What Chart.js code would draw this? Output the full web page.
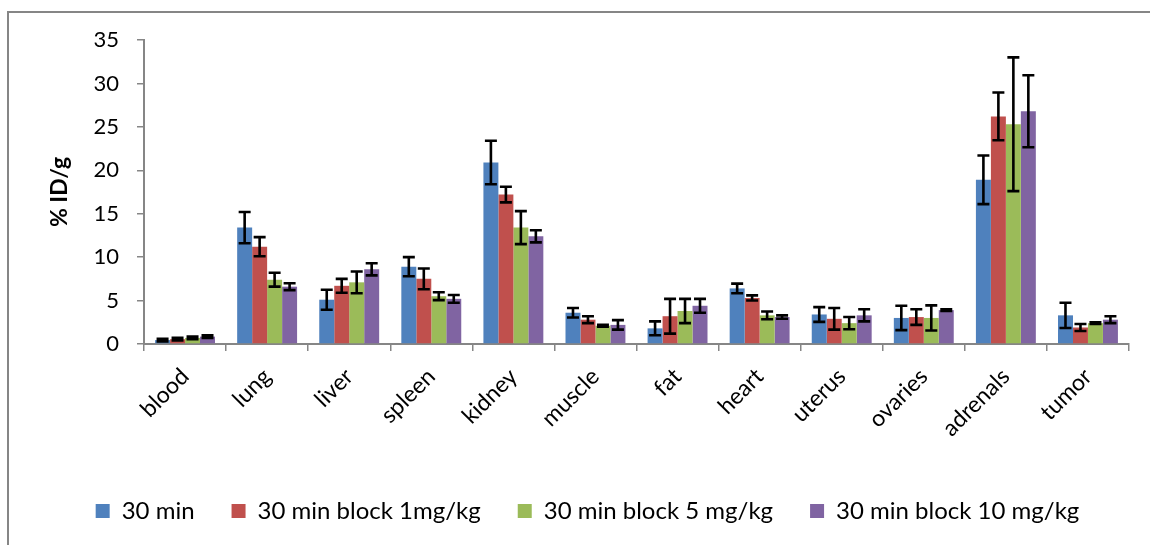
<!DOCTYPE html>
<html>
<head>
<meta charset="utf-8">
<script src="https://cdn.jsdelivr.net/npm/chart.js@4.4.0/dist/chart.umd.min.js"></script>
<style>
  html, body { margin: 0; padding: 0; background: #ffffff; overflow: hidden; }
  canvas { display: block; }
</style>
</head>
<body>
<canvas id="chart" width="1150" height="545"></canvas>
<script>
// Organs sampled
const organs = ['blood', 'lung', 'liver', 'spleen', 'kidney', 'muscle', 'fat', 'heart', 'uterus', 'ovaries', 'adrenals', 'tumor'];

// Series labels
const seriesLabels = ['30 min', '30 min block 1mg/kg', '30 min block 5 mg/kg', '30 min block 10 mg/kg'];

// Mean uptake (% ID/g) per organ
const uptake30 = [0.45, 13.4, 5.1, 8.9, 20.9, 3.6, 1.8, 6.4, 3.4, 3.0, 18.9, 3.3];
const uptakeBlock1 = [0.55, 11.2, 6.7, 7.5, 17.2, 2.8, 3.2, 5.3, 2.9, 3.1, 26.2, 1.9];
const uptakeBlock5 = [0.7, 7.4, 7.1, 5.5, 13.4, 2.1, 3.8, 3.3, 2.4, 3.0, 25.3, 2.4];
const uptakeBlock10 = [0.85, 6.6, 8.6, 5.2, 12.4, 2.2, 4.4, 3.1, 3.3, 3.9, 26.8, 2.8];

// Standard deviations
const sd30 = [0.15, 1.8, 1.15, 1.1, 2.5, 0.55, 0.8, 0.55, 0.85, 1.4, 2.8, 1.45];
const sdBlock1 = [0.15, 1.1, 0.8, 1.2, 0.9, 0.4, 2.0, 0.3, 1.25, 0.9, 2.75, 0.4];
const sdBlock5 = [0.15, 0.8, 1.25, 0.45, 1.9, 0.1, 1.4, 0.45, 0.7, 1.45, 7.7, 0.1];
const sdBlock10 = [0.15, 0.4, 0.7, 0.45, 0.7, 0.55, 0.8, 0.2, 0.7, 0.1, 4.15, 0.4];

// Axis range
const yMin = 0, yMax = 35, yStep = 5;

const colors = ['#4F81BD', '#C0504D', '#9BBB59', '#8064A2'];
const axisGrey = '#868686';
const fontFamily = 'Lato, "Open Sans", sans-serif';

const values = [uptake30, uptakeBlock1, uptakeBlock5, uptakeBlock10];
const errors = [sd30, sdBlock1, sdBlock5, sdBlock10];

// Outer frame of the chart area
const framePlugin = {
  id: 'frame',
  beforeDraw(chart) {
    const ctx = chart.ctx;
    ctx.save();
    ctx.strokeStyle = axisGrey;
    ctx.lineWidth = 2;
    ctx.beginPath();
    ctx.moveTo(8, chart.height + 5);
    ctx.lineTo(8, 12);
    ctx.lineTo(chart.width + 5, 12);
    ctx.stroke();
    ctx.restore();
  }
};

// Symmetric error bars drawn on top of each bar
const errorBarPlugin = {
  id: 'errorBars',
  afterDatasetsDraw(chart) {
    const ctx = chart.ctx;
    const y = chart.scales.y;
    ctx.save();
    ctx.strokeStyle = '#000000';
    ctx.lineWidth = 2.6;
    chart.data.datasets.forEach((ds, di) => {
      const meta = chart.getDatasetMeta(di);
      meta.data.forEach((bar, i) => {
        const v = ds.data[i];
        const e = ds.errors[i];
        const top = y.getPixelForValue(v + e);
        const bot = y.getPixelForValue(Math.max(v - e, yMin));
        const cx = bar.x;
        const half = 6;
        ctx.beginPath();
        ctx.moveTo(cx, top);
        ctx.lineTo(cx, bot);
        ctx.moveTo(cx - half, top);
        ctx.lineTo(cx + half, top);
        ctx.moveTo(cx - half, bot);
        ctx.lineTo(cx + half, bot);
        ctx.stroke();
      });
    });
    ctx.restore();
  }
};

new Chart(document.getElementById('chart'), {
  type: 'bar',
  data: {
    labels: organs,
    datasets: seriesLabels.map((label, i) => ({
      label,
      data: values[i],
      errors: errors[i],
      backgroundColor: colors[i],
      borderWidth: 0,
      categoryPercentage: 0.73,
      barPercentage: 1.0
    }))
  },
  options: {
    responsive: false,
    animation: false,
    layout: { padding: { left: 46, right: 21, top: 40, bottom: 12 } },
    plugins: {
      tooltip: { enabled: false },
      legend: {
        position: 'bottom',
        labels: {
          boxWidth: 14,
          boxHeight: 14,
          padding: 37,
          color: '#000000',
          font: { family: fontFamily, size: 24 }
        }
      }
    },
    scales: {
      x: {
        grid: {
          offset: true,
          drawOnChartArea: false,
          tickLength: 7,
          color: axisGrey,
          lineWidth: 1.5
        },
        border: { color: axisGrey, width: 2 },
        ticks: {
          autoSkip: false,
          minRotation: 45,
          maxRotation: 45,
          padding: 12,
          color: '#000000',
          font: { family: fontFamily, size: 23 }
        },
        afterFit(scale) { scale.height = 118; }
      },
      y: {
        min: yMin,
        max: yMax,
        ticks: {
          stepSize: yStep,
          padding: 18,
          color: '#000000',
          font: { family: fontFamily, size: 22 }
        },
        grid: {
          drawOnChartArea: false,
          tickLength: 7,
          color: axisGrey,
          lineWidth: 1.5
        },
        border: { color: axisGrey, width: 2 },
        title: {
          display: true,
          text: '% ID/g',
          color: '#000000',
          padding: { top: 0, bottom: 0 },
          font: { family: fontFamily, size: 23, weight: 'bold' }
        },
        afterFit(scale) { scale.width = 144 - 46; }
      }
    }
  },
  plugins: [framePlugin, errorBarPlugin]
});
</script>
</body>
</html>
